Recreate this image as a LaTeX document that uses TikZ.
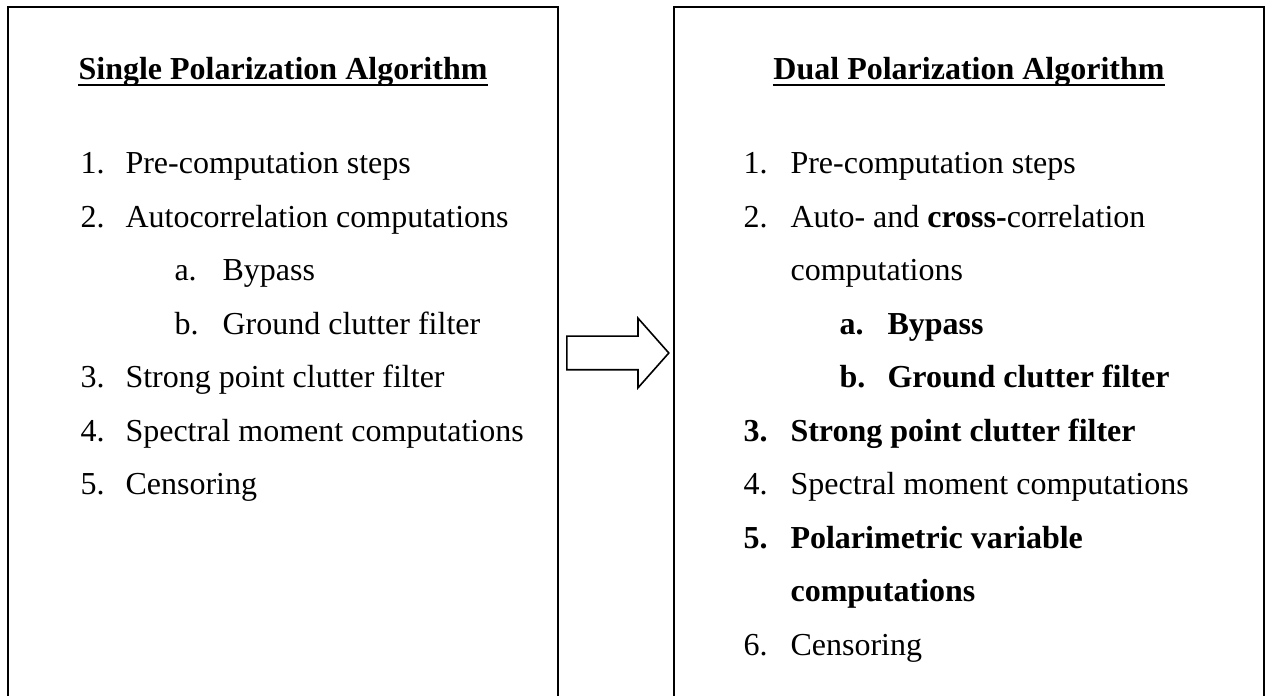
\documentclass[tikz,border=0pt]{standalone}
\usepackage{fontspec}
\setmainfont{Liberation Serif}
\usetikzlibrary{shapes.arrows}
\tikzset{
  panel/.style={draw, line width=0.75pt},
  head/.style={anchor=base, inner sep=0pt, font=\fontsize{12}{14}\selectfont\bfseries},
  uline/.style={line width=0.8pt},
  num/.style={anchor=base west, inner sep=0pt},
  txt/.style={anchor=base west, inner sep=0pt},
  bigarrow/.style={single arrow, draw, line width=0.6pt, inner sep=0pt,
                   minimum height=38.25pt, text height=12pt, text depth=0pt,
                   single arrow head extend=6.75pt, single arrow tip angle=97},
}
\begin{document}
\begin{tikzpicture}[x=0.375pt, y=-0.375pt, font=\fontsize{12}{14}\selectfont]
\useasboundingbox (0,0) rectangle (1267,696);

% the two panels, open at the foot of the page
\draw[panel] (8,700) -- (8,7) -- (558,7) -- (558,700);
\draw[panel] (674,700) -- (674,7) -- (1264,7) -- (1264,700);

% headings
\node[head] (single) at (283,80) {Single Polarization Algorithm};
\node[head] (dual) at (969,80) {Dual Polarization Algorithm};
\draw[uline] ([yshift=-1.8pt]single.base west) -- ([yshift=-1.8pt]single.base east);
\draw[uline] ([yshift=-1.8pt]dual.base west) -- ([yshift=-1.8pt]dual.base east);

% single polarization steps
\foreach \k/\nx/\tx/\n/\t in {
    0/80/125/1./Pre-computation steps,
    1/80/125/2./Autocorrelation computations,
    2/174/222/a./Bypass,
    3/174/222/b./Ground clutter filter,
    4/80/125/3./Strong point clutter filter,
    5/80/125/4./Spectral moment computations,
    6/80/125/5./Censoring}{
  \node[num] (sn\k) at (\nx,174+53.5*\k) {\n};
  \node[txt] (st\k) at (\tx,174+53.5*\k) {\t};
}

% dual polarization steps
\foreach \k/\nx/\tx/\n/\t in {
    0/743/790/1./Pre-computation steps,
    1/743/790/2./{Auto- and \textbf{cross-}correlation},
    2/743/790/{}/computations,
    3/839/887/\textbf{a.}/\textbf{Bypass},
    4/839/887/\textbf{b.}/\textbf{Ground clutter filter},
    5/743/790/\textbf{3.}/\textbf{Strong point clutter filter},
    6/743/790/4./Spectral moment computations,
    7/743/790/\textbf{5.}/\textbf{Polarimetric variable},
    8/743/790/{}/\textbf{computations},
    9/743/790/6./Censoring}{
  \node[num] (dn\k) at (\nx,174+53.5*\k) {\n};
  \node[txt] (dt\k) at (\tx,174+53.5*\k) {\t};
}

% hollow arrow between the panels
\node[bigarrow, anchor=tail] (shift) at (566,353) {};

\end{tikzpicture}
\end{document}
